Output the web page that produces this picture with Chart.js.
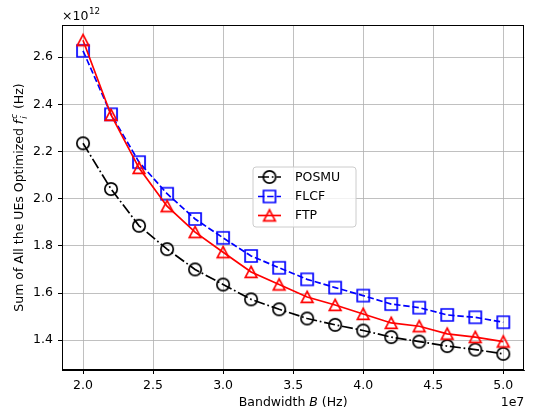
<!DOCTYPE html>
<html>
<head>
<meta charset="utf-8">
<script src="https://cdn.jsdelivr.net/npm/chart.js@4.4.0/dist/chart.umd.min.js"></script>
<style>
  html, body { margin: 0; padding: 0; background: #ffffff; }
  canvas { display: block; }
</style>
</head>
<body>
<canvas id="chart" width="533" height="412"></canvas>
<script>
// Bandwidth B in units of 1e7 Hz
const bandwidth = [2.0, 2.2, 2.4, 2.6, 2.8, 3.0, 3.2, 3.4, 3.6, 3.8, 4.0, 4.2, 4.4, 4.6, 4.8, 5.0];
// Sum of optimized f_i^c in units of 1e12 Hz
const posmu = [2.235, 2.041, 1.885, 1.786, 1.700, 1.636, 1.573, 1.531, 1.492, 1.465, 1.441, 1.413, 1.394, 1.375, 1.360, 1.342];
const flcf  = [2.627, 2.358, 2.155, 2.021, 1.914, 1.834, 1.757, 1.707, 1.658, 1.623, 1.589, 1.553, 1.538, 1.507, 1.497, 1.476];
const ftp   = [2.672, 2.355, 2.130, 1.968, 1.858, 1.773, 1.689, 1.636, 1.583, 1.549, 1.511, 1.473, 1.459, 1.427, 1.413, 1.394];
const seriesNames = ['POSMU', 'FLCF', 'FTP'];
const xTicks = [2.0, 2.5, 3.0, 3.5, 4.0, 4.5, 5.0];
const yTicks = [1.4, 1.6, 1.8, 2.0, 2.2, 2.4, 2.6];

const FONT = '"DejaVu Sans", sans-serif';
const FS = 12.5;
const LW = 1.7;

// Hollow marker glyphs rendered once and reused as point styles
function makeMarker(shape, color) {
  const s = 20, m = s / 2;
  const c = document.createElement('canvas');
  c.width = s; c.height = s;
  const g = c.getContext('2d');
  g.strokeStyle = color;
  g.lineWidth = LW;
  g.lineJoin = 'miter';
  g.beginPath();
  if (shape === 'circle') {
    g.arc(m, m, 6.2, 0, Math.PI * 2);
  } else if (shape === 'square') {
    g.rect(m - 6, m - 6, 12, 12);
  } else {
    g.moveTo(m, m - 5.6);
    g.lineTo(m - 5.8, m + 5.4);
    g.lineTo(m + 5.8, m + 5.4);
    g.closePath();
  }
  g.stroke();
  return c;
}

const styles = [
  { color: '#000000', dash: [11, 2.8, 1.7, 2.8], marker: makeMarker('circle', '#000000') },
  { color: '#0000ff', dash: [6.4, 2.8], marker: makeMarker('square', '#0000ff') },
  { color: '#ff0000', dash: [], marker: makeMarker('triangle', '#ff0000') }
];

function toPoints(vals) {
  return bandwidth.map((b, i) => ({ x: b, y: vals[i] }));
}

const datasets = [posmu, flcf, ftp].map((vals, i) => ({
  label: seriesNames[i],
  data: toPoints(vals),
  borderColor: styles[i].color,
  borderWidth: LW,
  borderDash: styles[i].dash,
  pointStyle: styles[i].marker,
  pointRadius: 7,
  tension: 0,
  fill: false,
  order: 3 - i
}));

// Frame, offset labels, rich-text axis titles and the legend box
const decor = {
  id: 'decor',
  afterDraw(chart) {
    const ctx = chart.ctx;
    const a = chart.chartArea;
    ctx.save();

    // full frame around the plotting area
    ctx.strokeStyle = '#000';
    ctx.lineWidth = 1;
    ctx.strokeRect(Math.round(a.left) + 0.5, Math.round(a.top) + 0.5,
                   Math.round(a.right - a.left) - 1, Math.round(a.bottom - a.top) - 1);

    ctx.fillStyle = '#000';
    ctx.textBaseline = 'alphabetic';

    // y offset text: ×10^12
    ctx.font = `${FS}px ${FONT}`;
    ctx.textAlign = 'left';
    const base = '\u00d710';
    ctx.fillText(base, a.left, 20);
    const bw = ctx.measureText(base).width;
    ctx.font = `${FS * 0.7}px ${FONT}`;
    ctx.fillText('12', a.left + bw + 0.5, 14);

    // x offset text: 1e7
    ctx.font = `${FS}px ${FONT}`;
    ctx.textAlign = 'right';
    ctx.fillText('1e7', a.right, 406);

    // x-axis title
    const xs1 = 'Bandwidth ', xsB = 'B', xs3 = ' (Hz)';
    ctx.textAlign = 'left';
    ctx.font = `${FS}px ${FONT}`;
    const w1 = ctx.measureText(xs1).width, w3 = ctx.measureText(xs3).width;
    ctx.font = `italic ${FS}px ${FONT}`;
    const wB = ctx.measureText(xsB).width;
    let x0 = (a.left + a.right) / 2 - (w1 + wB + w3) / 2;
    ctx.font = `${FS}px ${FONT}`;
    ctx.fillText(xs1, x0, 406);
    ctx.font = `italic ${FS}px ${FONT}`;
    ctx.fillText(xsB, x0 + w1, 406);
    ctx.font = `${FS}px ${FONT}`;
    ctx.fillText(xs3, x0 + w1 + wB, 406);

    // y-axis title, rotated
    ctx.save();
    ctx.translate(23, (a.top + a.bottom) / 2);
    ctx.rotate(-Math.PI / 2);
    const ys1 = 'Sum of All the UEs Optimized ', ys3 = ' (Hz)';
    const sm = FS * 0.7;
    ctx.font = `${FS}px ${FONT}`;
    const yw1 = ctx.measureText(ys1).width, yw3 = ctx.measureText(ys3).width;
    ctx.font = `italic ${FS}px ${FONT}`;
    const wf = ctx.measureText('f').width;
    ctx.font = `italic ${sm}px ${FONT}`;
    const ws = Math.max(ctx.measureText('c').width, ctx.measureText('i').width) + 1;
    const tot = yw1 + wf + 1 + ws + yw3;
    let p = -tot / 2;
    ctx.textAlign = 'left';
    ctx.font = `${FS}px ${FONT}`;
    ctx.fillText(ys1, p, 0); p += yw1;
    ctx.font = `italic ${FS}px ${FONT}`;
    ctx.fillText('f', p, 0); p += wf + 1;
    ctx.font = `italic ${sm}px ${FONT}`;
    ctx.fillText('c', p, -FS * 0.45);
    ctx.fillText('i', p, FS * 0.28);
    p += ws;
    ctx.font = `${FS}px ${FONT}`;
    ctx.fillText(ys3, p, 0);
    ctx.restore();

    // legend
    const lx = 253, ly = 167, lw = 103, lh = 60, r = 3;
    ctx.beginPath();
    ctx.moveTo(lx + r, ly);
    ctx.arcTo(lx + lw, ly, lx + lw, ly + lh, r);
    ctx.arcTo(lx + lw, ly + lh, lx, ly + lh, r);
    ctx.arcTo(lx, ly + lh, lx, ly, r);
    ctx.arcTo(lx, ly, lx + lw, ly, r);
    ctx.closePath();
    ctx.fillStyle = 'rgba(255,255,255,0.8)';
    ctx.fill();
    ctx.strokeStyle = '#cccccc';
    ctx.lineWidth = 1;
    ctx.stroke();

    const rows = [177, 196.5, 215.5];
    seriesNames.forEach((name, i) => {
      const y = rows[i];
      ctx.strokeStyle = styles[i].color;
      ctx.lineWidth = LW;
      ctx.setLineDash(styles[i].dash);
      ctx.beginPath();
      ctx.moveTo(258, y);
      ctx.lineTo(281, y);
      ctx.stroke();
      ctx.setLineDash([]);
      const mk = styles[i].marker;
      ctx.drawImage(mk, 269.5 - mk.width / 2, y - mk.height / 2);
      ctx.fillStyle = '#000';
      ctx.font = `${FS}px ${FONT}`;
      ctx.textAlign = 'left';
      ctx.textBaseline = 'middle';
      ctx.fillText(name, 295, y + 0.5);
    });

    ctx.restore();
  }
};

const gridOpts = {
  color: '#b0b0b0',
  lineWidth: 0.8,
  drawTicks: true,
  tickLength: 4,
  tickColor: '#000',
  tickWidth: 1
};

new Chart(document.getElementById('chart'), {
  type: 'line',
  data: { datasets },
  options: {
    responsive: false,
    animation: false,
    devicePixelRatio: 1,
    layout: { padding: { top: 25, right: 7, left: 0, bottom: 0 } },
    plugins: {
      legend: { display: false },
      tooltip: { enabled: false }
    },
    scales: {
      x: {
        type: 'linear',
        position: 'bottom',
        min: 1.85,
        max: 5.15,
        afterBuildTicks: s => { s.ticks = xTicks.map(v => ({ value: v })); },
        afterFit: s => { s.height = 42; },
        grid: gridOpts,
        border: { display: true, color: '#000', width: 1 },
        ticks: {
          color: '#000',
          padding: 4,
          maxRotation: 0,
          font: { family: FONT, size: FS },
          callback: v => Number(v).toFixed(1)
        }
      },
      y: {
        type: 'linear',
        min: 1.2735,
        max: 2.7365,
        afterBuildTicks: s => { s.ticks = yTicks.map(v => ({ value: v })); },
        afterFit: s => { s.width = 62; },
        grid: gridOpts,
        border: { display: true, color: '#000', width: 1 },
        ticks: {
          color: '#000',
          padding: 5,
          font: { family: FONT, size: FS },
          callback: v => Number(v).toFixed(1)
        }
      }
    }
  },
  plugins: [decor]
});
</script>
</body>
</html>
